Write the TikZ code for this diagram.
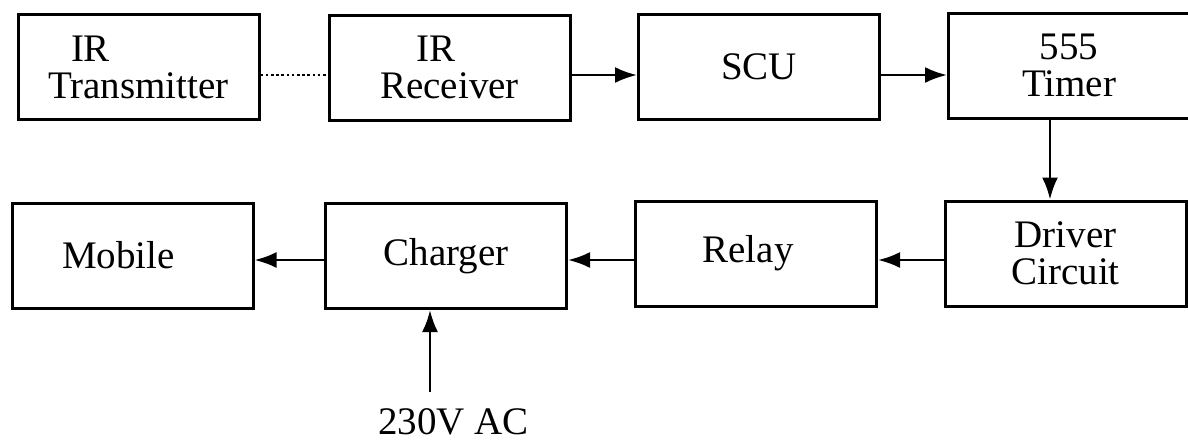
\documentclass[tikz,border=0pt]{standalone}
\usepackage{fontspec}
\setmainfont{Liberation Serif}
\usetikzlibrary{arrows.meta}

\begin{document}
\begin{tikzpicture}[x=0.5pt,y=-0.5pt,
  blk/.style={draw,line width=1.5pt,minimum width=120.5pt,minimum height=52.5pt,
    inner sep=0pt,align=center,font=\fontsize{19.5}{18.5}\selectfont},
  arr/.style={line width=1.3pt,-{Latex[length=11pt,width=8pt]}}]
  \useasboundingbox (0,0) rectangle (1188,441);
  \foreach \n/\x/\y/\t in {tx/138.5/67/{IR\hspace*{48pt}\\Transmitter},
      rx/449.5/67.5/{IR\hspace*{13.5pt}\\Receiver},scu/759/66.5/SCU,tim/1069/65.5/{555\\Timer},
      mob/132.5/255.5/{Mobile\hspace*{14pt}},chg/446/256/Charger,
      rel/756/253.5/{Relay\hspace*{8pt}},drv/1065.5/253.5/{Driver\\Circuit}}{
    \node[blk] (\n) at (\x,\y) {\t};}
  \node[anchor=base,font=\fontsize{19.5}{18.5}\selectfont] (ac) at (453.5,434) {230V AC};
  \coordinate (acin) at (430,392);
  \draw[line width=1.4pt,dash pattern=on 1.3pt off 1.3pt] (tx.east |- 0,75) -- (rx.west |- 0,75);
  \draw[arr] (rx.east |- 0,75) -- (scu.west |- 0,75);
  \draw[arr] (scu.east |- 0,75) -- (tim.west |- 0,75);
  \draw[arr] (tim.south -| 1050,0) -- (drv.north -| 1050,0);
  \draw[arr] (drv.west |- 0,260) -- (rel.east |- 0,260);
  \draw[arr] (rel.west |- 0,260) -- (chg.east |- 0,260);
  \draw[arr] (chg.west |- 0,260) -- (mob.east |- 0,260);
  \draw[arr] (acin) -- (chg.south -| acin);
\end{tikzpicture}
\end{document}
